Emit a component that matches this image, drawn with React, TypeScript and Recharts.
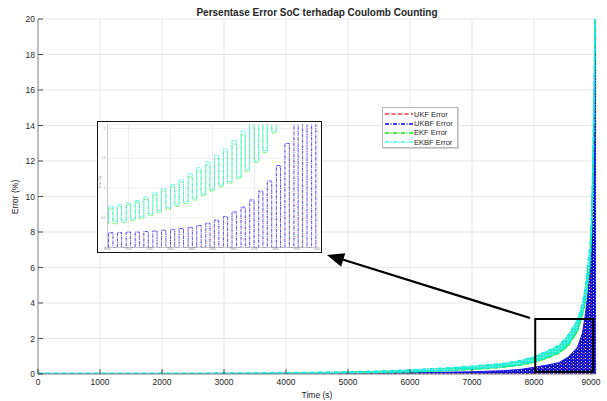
import React from 'react';
import {
  ComposedChart,
  LineChart,
  Area,
  Line,
  XAxis,
  YAxis,
  CartesianGrid,
  ReferenceArea
} from 'recharts';

// main plot: sampled envelope of each error signal (s, %)
const mainTime = [0, 1000, 2000, 3000, 4000, 4500, 5000, 5500, 6000, 6500, 7000, 7500, 7800, 8000, 8200, 8400, 8550, 8700, 8780, 8830, 8870, 8905, 8930, 8950, 8970, 8990, 9000];
const ukfHigh = [0.02, 0.02, 0.02, 0.03, 0.03, 0.04, 0.05, 0.06, 0.07, 0.09, 0.12, 0.18, 0.25, 0.35, 0.47, 0.6, 0.9, 1.42, 2.2, 3.25, 4.4, 5.8, 8.2, 11, 15, 20.5, 23];
const ukbfHigh = [0.02, 0.02, 0.02, 0.03, 0.03, 0.04, 0.05, 0.06, 0.08, 0.1, 0.13, 0.19, 0.27, 0.38, 0.5, 0.64, 0.95, 1.5, 2.3, 3.4, 4.6, 6.0, 8.5, 11.5, 15.5, 21, 24];
const ekfLow = [0, 0.005, 0.01, 0.015, 0.025, 0.035, 0.05, 0.07, 0.1, 0.16, 0.24, 0.36, 0.49, 0.63, 0.86, 1.15, 1.55, 2.35, 3.25, 4.0, 5.1, 6.1, 7.7, 10, 14, 19, 21.5];
const ekfHigh = [0.04, 0.04, 0.04, 0.05, 0.07, 0.09, 0.12, 0.15, 0.21, 0.29, 0.4, 0.54, 0.7, 0.88, 1.16, 1.48, 2.0, 2.85, 3.8, 4.7, 6.0, 7.0, 9.0, 12, 16.5, 21.5, 24];
const ekbfLow = [0, 0.01, 0.01, 0.02, 0.03, 0.04, 0.06, 0.08, 0.12, 0.18, 0.27, 0.4, 0.53, 0.68, 0.92, 1.22, 1.65, 2.5, 3.4, 4.2, 5.3, 6.3, 8.0, 10.5, 14.5, 19.5, 22];
const ekbfHigh = [0.05, 0.05, 0.05, 0.06, 0.08, 0.1, 0.13, 0.17, 0.24, 0.33, 0.45, 0.6, 0.78, 0.98, 1.28, 1.62, 2.2, 3.05, 4.0, 5.0, 6.3, 7.3, 9.5, 12.5, 17, 22, 24];

const xTicks = [0, 1000, 2000, 3000, 4000, 5000, 6000, 7000, 8000, 9000];
const yTicks = [0, 2, 4, 6, 8, 10, 12, 14, 16, 18, 20];

// zoomed inset: one entry per load pulse
const insetRise = [8005, 8047, 8089, 8132, 8173, 8216, 8257, 8300, 8341, 8384, 8425, 8468, 8509, 8552, 8593, 8636, 8677, 8720, 8761, 8804, 8845, 8888, 8929, 8972];
const insetFall = [8026, 8067, 8110, 8152, 8194, 8236, 8278, 8320, 8362, 8404, 8446, 8488, 8530, 8572, 8614, 8656, 8698, 8740, 8782, 8824, 8866, 8908, 8950, 8992];
const ukfPeak = [0.24, 0.24, 0.25, 0.25, 0.26, 0.27, 0.28, 0.29, 0.31, 0.33, 0.36, 0.4, 0.45, 0.51, 0.58, 0.66, 0.78, 0.93, 1.1, 1.35, 1.72, 2.35, 3.1, 4.4];
const ukbfPeak = [0.25, 0.25, 0.26, 0.26, 0.27, 0.28, 0.29, 0.3, 0.32, 0.34, 0.37, 0.41, 0.46, 0.52, 0.6, 0.68, 0.8, 0.95, 1.12, 1.38, 1.75, 2.4, 3.2, 4.5];
const ekfPeak = [0.66, 0.69, 0.72, 0.76, 0.81, 0.88, 0.95, 1.02, 1.1, 1.19, 1.29, 1.39, 1.5, 1.61, 1.74, 1.9, 2.08, 2.3, 2.6, 3.0, 3.5, 4.2, 5.1, 6.3];
const ekfTrough = [0.4, 0.42, 0.45, 0.49, 0.54, 0.59, 0.64, 0.69, 0.74, 0.8, 0.87, 0.95, 1.02, 1.08, 1.16, 1.28, 1.43, 1.6, 1.93, 2.35, 2.85, 3.45, 4.2, 5.4];
const ekbfPeak = [0.7, 0.72, 0.75, 0.79, 0.85, 0.92, 0.99, 1.06, 1.14, 1.24, 1.34, 1.44, 1.55, 1.66, 1.8, 1.96, 2.15, 2.4, 2.7, 3.1, 3.6, 4.3, 5.2, 6.5];
const ekbfTrough = [0.44, 0.45, 0.48, 0.52, 0.57, 0.62, 0.67, 0.72, 0.77, 0.83, 0.9, 0.98, 1.05, 1.11, 1.19, 1.31, 1.46, 1.63, 1.96, 2.4, 2.9, 3.5, 4.3, 5.5];

const insetXTicks = [8000, 8100, 8200, 8300, 8400, 8500, 8600, 8700, 8800, 8900, 9000];
const insetYTicks = [0, 0.5, 1, 1.5, 2];

const seriesNames = ['UKF Error', 'UKBF Error', 'EKF Error', 'EKBF Error'];
const seriesColors = ['#ff3030', '#0000ee', '#00ee00', '#33ffff'];
const seriesDash = ['4 2.5', '4 1.5 1 1.5', '4 1.5 1 1.5', '4 1.5 1 1.5'];

const FONT = '"Liberation Sans", Arial, Helvetica, sans-serif';
const AXIS = '#8a8a8a';
const TXT = '#262626';

const mainData = mainTime.map((t, i) => ({
  t,
  ukf: ukfHigh[i],
  ukbf: ukbfHigh[i],
  ekf: [ekfLow[i], ekfHigh[i]],
  ekbf: [ekbfLow[i], ekbfHigh[i]]
}));

// square pulses: up at rise, down at fall, resting at the trough in between
const pulses = (peak: number[], trough?: number[]) => {
  const pts: { t: number; v: number }[] = [];
  insetRise.forEach((r, i) => {
    const lo = trough ? trough[i] : 0;
    const prevLo = trough ? trough[Math.max(0, i - 1)] : 0;
    pts.push({ t: r, v: prevLo }, { t: r, v: peak[i] }, { t: insetFall[i], v: peak[i] }, { t: insetFall[i], v: lo });
  });
  return pts;
};

const LeftTick = ({ x, y, payload }: any) => (
  <g>
    <line x1={x + 3} y1={y} x2={x + 8} y2={y} stroke={TXT} strokeWidth={0.8} />
    <text x={x} y={y} dy={3} textAnchor="end" fontSize={8.5} fontFamily={FONT} fill={TXT}>{payload.value}</text>
  </g>
);

const BottomTick = ({ x, y, payload }: any) => (
  <g>
    <line x1={x} y1={y - 4} x2={x} y2={y - 9} stroke={TXT} strokeWidth={0.8} />
    <text x={x} y={y} dy={7} textAnchor="middle" fontSize={8.5} fontFamily={FONT} fill={TXT}>{payload.value}</text>
  </g>
);

const TopTick = ({ x, y }: any) => <line x1={x} y1={y} x2={x} y2={y + 5} stroke={TXT} strokeWidth={0.8} />;
const RightTick = ({ x, y }: any) => <line x1={x} y1={y} x2={x - 5} y2={y} stroke={TXT} strokeWidth={0.8} />;

const LegendBox = () => (
  <div
    style={{
      position: 'absolute',
      left: 382,
      top: 107,
      width: 76,
      height: 41,
      boxSizing: 'border-box',
      border: '1px solid #b8b8b8',
      boxShadow: '1px 1px 0 #d6d6d6',
      background: '#fff',
      paddingTop: 1.5,
      paddingLeft: 1.5,
      fontFamily: FONT,
      fontSize: 7.5,
      color: TXT
    }}
  >
    {seriesNames.map((n, i) => (
      <div key={n} style={{ display: 'flex', alignItems: 'center', height: 9.4 }}>
        <svg width={28} height={4}>
          <line x1={0} y1={2} x2={28} y2={2} stroke={seriesColors[i]} strokeWidth={1.4} strokeDasharray={seriesDash[i]} />
        </svg>
        <span style={{ marginLeft: 1.5 }}>{n}</span>
      </div>
    ))}
  </div>
);

const Inset = () => (
  <div
    style={{
      position: 'absolute',
      left: 97,
      top: 121,
      width: 225,
      height: 132,
      boxSizing: 'border-box',
      border: '1.5px solid #151515',
      background: '#fff'
    }}
  >
    <LineChart width={222} height={129} margin={{ top: 2.5, right: 2.5, bottom: 0, left: 0 }}>
      <CartesianGrid stroke="#e6e6e6" strokeWidth={0.6} />
      <XAxis
        dataKey="t"
        type="number"
        domain={[8000, 9000]}
        ticks={insetXTicks}
        allowDataOverflow
        height={3.5}
        tickSize={0}
        tickMargin={0.5}
        tickLine={false}
        axisLine={{ stroke: '#b0b0b0', strokeWidth: 0.6 }}
        tick={{ fontSize: 2.8, fill: '#8c8c8c', fontFamily: FONT }}
      />
      <YAxis
        type="number"
        domain={[0, 2.07]}
        ticks={insetYTicks}
        allowDataOverflow
        width={9.5}
        tickSize={0}
        tickMargin={2}
        tickLine={false}
        axisLine={{ stroke: '#b0b0b0', strokeWidth: 0.6 }}
        tick={{ fontSize: 3, fill: '#8c8c8c', fontFamily: FONT }}
        label={{
          content: (p: any) => (
            <text x={2.5} y={60} transform="rotate(-90 2.5 60)" textAnchor="middle" fontSize={3} fontFamily={FONT} fill="#8c8c8c">Error (%)</text>
          )
        }}
      />
      <Line data={pulses(ukfPeak)} dataKey="v" name={seriesNames[0]} type="linear" stroke="#ff6060" strokeWidth={0.6} strokeDasharray="1.5 4" dot={false} isAnimationActive={false} />
      <Line data={pulses(ukbfPeak)} dataKey="v" name={seriesNames[1]} type="linear" stroke="#1c1cff" strokeWidth={0.75} strokeDasharray="3 0.8 1 0.8" dot={false} isAnimationActive={false} />
      <Line data={pulses(ekfPeak, ekfTrough)} dataKey="v" name={seriesNames[2]} type="linear" stroke="#33ee33" strokeWidth={0.7} strokeDasharray="3 1 1 1" dot={false} isAnimationActive={false} />
      <Line data={pulses(ekbfPeak, ekbfTrough)} dataKey="v" name={seriesNames[3]} type="linear" stroke="#40f8e8" strokeWidth={0.8} strokeDasharray="4 0.6 1 0.6" dot={false} isAnimationActive={false} />
    </LineChart>
  </div>
);

export default function App() {
  return (
    <div style={{ position: 'absolute', left: 0, top: 0, width: 607, height: 401, background: '#fff', fontFamily: FONT }}>
      <svg width={0} height={0} style={{ position: 'absolute' }}>
        <defs>
          <pattern id="patUkbf" width={4} height={3} patternUnits="userSpaceOnUse">
            <rect width={4} height={3} fill="#1212cc" />
            <rect x={1} y={1} width={1} height={1} fill="#dcdcff" />
            <rect x={3} y={2} width={1} height={1} fill="#6a6aff" />
          </pattern>
          <pattern id="patUkf" width={6} height={5} patternUnits="userSpaceOnUse">
            <rect x={2} y={3} width={1} height={1} fill="#ff2a2a" />
          </pattern>
          <pattern id="patEkf" width={3} height={3} patternUnits="userSpaceOnUse">
            <rect width={3} height={3} fill="#20ea40" />
            <rect x={1} y={1} width={1} height={1} fill="#30f8d8" />
          </pattern>
          <pattern id="patEkbf" width={3} height={3} patternUnits="userSpaceOnUse">
            <rect width={3} height={3} fill="#2cf0d8" />
            <rect x={0} y={0} width={1} height={1} fill="#a8fff6" />
            <rect x={2} y={2} width={1} height={1} fill="#28e878" />
          </pattern>
        </defs>
      </svg>

      <div style={{ position: 'absolute', left: 38, width: 558, top: 7, textAlign: 'center', fontSize: 10, fontWeight: 'bold', color: TXT }}>
        Persentase Error SoC terhadap Coulomb Counting
      </div>

      <ComposedChart width={607} height={401} data={mainData} margin={{ top: 19, right: 11, bottom: 0, left: 0 }}>
        <CartesianGrid stroke="#e6e6e6" />
        <XAxis
          dataKey="t"
          type="number"
          domain={[0, 9000]}
          ticks={xTicks}
          allowDataOverflow
          height={27}
          tickSize={0}
          tickMargin={4}
          tickLine={false}
          axisLine={{ stroke: AXIS }}
          tick={(p: any) => <BottomTick {...p} />}
          label={{
            content: (p: any) => (
              <text x={317} y={398} textAnchor="middle" fontSize={8.5} fontFamily={FONT} fill={TXT}>Time (s)</text>
            )
          }}
        />
        <XAxis
          xAxisId="top"
          orientation="top"
          type="number"
          domain={[0, 9000]}
          ticks={xTicks}
          height={0}
          tickSize={0}
          tickMargin={0}
          tickLine={false}
          axisLine={{ stroke: AXIS }}
          tick={(p: any) => <TopTick {...p} />}
        />
        <YAxis
          type="number"
          domain={[0, 20]}
          ticks={yTicks}
          allowDataOverflow
          width={38}
          tickSize={0}
          tickMargin={3}
          tickLine={false}
          axisLine={{ stroke: AXIS }}
          tick={(p: any) => <LeftTick {...p} />}
          label={{
            content: (p: any) => (
              <text x={18} y={197} transform="rotate(-90 18 197)" textAnchor="middle" fontSize={8.5} fontFamily={FONT} fill={TXT}>Error (%)</text>
            )
          }}
        />
        <YAxis
          yAxisId="right"
          orientation="right"
          type="number"
          domain={[0, 20]}
          ticks={yTicks}
          width={0}
          tickSize={0}
          tickMargin={0}
          tickLine={false}
          axisLine={{ stroke: AXIS }}
          tick={(p: any) => <RightTick {...p} />}
        />
        <Area dataKey="ukbf" name={seriesNames[1]} type="linear" fill="url(#patUkbf)" fillOpacity={1} stroke="#0000ee" strokeWidth={0.8} isAnimationActive={false} />
        <Area dataKey="ukf" name={seriesNames[0]} type="linear" fill="url(#patUkf)" fillOpacity={1} stroke="none" isAnimationActive={false} />
        <Area dataKey="ekf" name={seriesNames[2]} type="linear" fill="url(#patEkf)" fillOpacity={1} stroke="#22ee22" strokeWidth={1} strokeDasharray="4 1.5 1 1.5" isAnimationActive={false} />
        <Area dataKey="ekbf" name={seriesNames[3]} type="linear" fill="url(#patEkbf)" fillOpacity={1} stroke="#10e8ec" strokeWidth={1.2} strokeDasharray="4 1.5 1 1.5" isAnimationActive={false} />
        <ReferenceArea x1={8020} x2={8955} y1={0.12} y2={3.1} fill="none" fillOpacity={0} stroke="#000" strokeWidth={2} ifOverflow="visible" />
      </ComposedChart>

      <LegendBox />
      <Inset />

      <svg width={607} height={401} style={{ position: 'absolute', left: 0, top: 0, pointerEvents: 'none' }}>
        <line x1={530} y1={318} x2={341} y2={259} stroke="#000" strokeWidth={2.2} />
        <polygon points="327,255 345.3,253.3 341.1,266.7" fill="#000" />
      </svg>
    </div>
  );
}
